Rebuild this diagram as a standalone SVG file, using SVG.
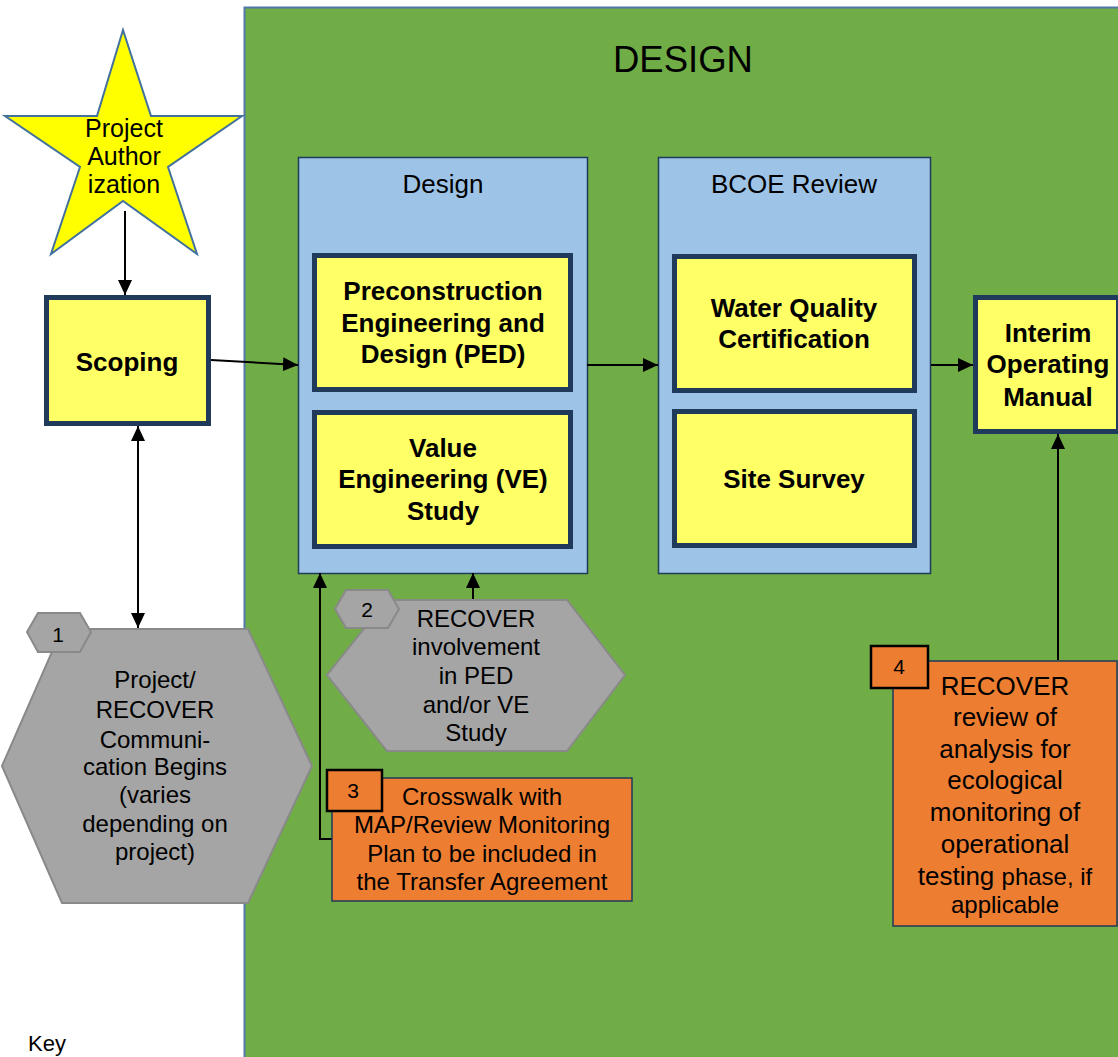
<svg xmlns="http://www.w3.org/2000/svg" width="1118" height="1057" viewBox="0 0 1118 1057">
<style>
text{font-family:"Liberation Sans",Arial,sans-serif;fill:#000;text-anchor:middle}
.yb{fill:#ffff66;stroke:#1f3a5a;stroke-width:5}
.bb{fill:#9dc3e6;stroke:#1f3a5a;stroke-width:1.5}
.hx{fill:#a5a5a5;stroke:#898989;stroke-width:2}
.or{fill:#ed7d31;stroke:#1f3a5a;stroke-width:1.5}
.badge{fill:#ed7d31;stroke:#000;stroke-width:2.5}
.b{font-weight:bold;font-size:26px}
.n{font-size:26px}
.s{font-size:24px}
.c line,.c polyline{stroke:#000;stroke-width:2;fill:none}
</style>
<defs>
<marker id="ah" viewBox="0 0 15 14" refX="15" refY="7" markerWidth="15" markerHeight="14" markerUnits="userSpaceOnUse" orient="auto-start-reverse">
<path d="M0,0 L15,7 L0,14 z" fill="#000"/>
</marker>
</defs>
<rect width="1118" height="1057" fill="#fff"/>
<g id="design-phase">
<rect x="244.5" y="7.5" width="880" height="1060" fill="#70ad47" stroke="#5277a8" stroke-width="2"/>
<text x="683" y="72" style="font-size:36.5px">DESIGN</text>
</g>
<g id="project-authorization">
<polygon points="123,30 151,116 242,116 168,167 197,254 123,201 51,254 80,167 5,116 97,116" fill="#ffff00" stroke="#41719c" stroke-width="2"/>
<text x="124" y="137" style="font-size:25px">Project</text>
<text x="124" y="165" style="font-size:25px">Author</text>
<text x="124" y="193" style="font-size:25px">ization</text>
</g>
<g id="scoping">
<rect class="yb" x="46.5" y="297.5" width="162" height="126"/>
<text class="b" x="127" y="371">Scoping</text>
</g>
<g id="design-group">
<rect class="bb" x="298.5" y="157.5" width="289" height="416"/>
<text class="n" x="443" y="193">Design</text>
</g>
<g id="ped">
<rect class="yb" x="314.5" y="255.5" width="256" height="134"/>
<text class="b" x="443" y="300">Preconstruction</text>
<text class="b" x="443" y="332">Engineering and</text>
<text class="b" x="443" y="363">Design (PED)</text>
</g>
<g id="ve-study">
<rect class="yb" x="314.5" y="412.5" width="256" height="134"/>
<text class="b" x="443" y="457">Value</text>
<text class="b" x="443" y="488">Engineering (VE)</text>
<text class="b" x="443" y="520">Study</text>
</g>
<g id="bcoe-review">
<rect class="bb" x="658.5" y="157.5" width="272" height="416"/>
<text class="n" x="794" y="193">BCOE Review</text>
</g>
<g id="water-quality">
<rect class="yb" x="674.5" y="256.5" width="240" height="134"/>
<text class="b" x="794" y="317">Water Quality</text>
<text class="b" x="794" y="348">Certification</text>
</g>
<g id="site-survey">
<rect class="yb" x="674.5" y="411.5" width="240" height="134"/>
<text class="b" x="794" y="488">Site Survey</text>
</g>
<g id="interim-manual">
<rect class="yb" x="975.5" y="297.5" width="143" height="134"/>
<text class="b" x="1048" y="342">Interim</text>
<text class="b" x="1048" y="373">Operating</text>
<text class="b" x="1048" y="406">Manual</text>
</g>
<g id="connectors" class="c">
<line x1="125" y1="211" x2="125" y2="295" marker-end="url(#ah)"/>
<line x1="211" y1="360" x2="298" y2="365" marker-end="url(#ah)"/>
<line x1="587" y1="365" x2="658" y2="365" marker-end="url(#ah)"/>
<line x1="931" y1="365" x2="973" y2="365" marker-end="url(#ah)"/>
<line x1="138" y1="426" x2="138" y2="628" marker-start="url(#ah)" marker-end="url(#ah)"/>
<line x1="473" y1="600" x2="473" y2="573" marker-end="url(#ah)"/>
<polyline points="332,839 320,839 320,573" marker-end="url(#ah)"/>
<line x1="1058" y1="660" x2="1058" y2="434" marker-end="url(#ah)"/>
</g>
<g id="step-1">
<polygon class="hx" points="62,629 248,629 312,766 248,903 62,903 2,766"/>
<polygon class="hx" points="27,632 38,613 80,613 91,632 80,652 38,652"/>
<text x="58" y="642" style="font-size:21px">1</text>
<text class="s" x="155" y="688">Project/</text>
<text class="s" x="155" y="718">RECOVER</text>
<text class="s" x="155" y="748">Communi-</text>
<text class="s" x="155" y="775">cation Begins</text>
<text class="s" x="155" y="803">(varies</text>
<text class="s" x="155" y="832">depending on</text>
<text class="s" x="155" y="860">project)</text>
</g>
<g id="step-2">
<polygon class="hx" points="387,600 567,600 625,675 567,751 387,751 327,675"/>
<polygon class="hx" points="335,609 346,590 388,590 399,609 388,628 346,628"/>
<text x="367" y="617" style="font-size:21px">2</text>
<text class="s" x="476" y="627">RECOVER</text>
<text class="s" x="476" y="655">involvement</text>
<text class="s" x="476" y="684">in PED</text>
<text class="s" x="476" y="713">and/or VE</text>
<text class="s" x="476" y="741">Study</text>
</g>
<g id="step-3">
<rect class="or" x="332" y="778" width="300" height="123"/>
<rect class="badge" x="327" y="770" width="55" height="41"/>
<text x="353" y="798" style="font-size:21px">3</text>
<text class="s" x="482" y="805">Crosswalk with</text>
<text class="s" x="482" y="833">MAP/Review Monitoring</text>
<text class="s" x="482" y="862">Plan to be included in</text>
<text class="s" x="482" y="890">the Transfer Agreement</text>
</g>
<g id="step-4">
<rect class="or" x="893" y="661" width="224" height="265"/>
<rect class="badge" x="871" y="646" width="57" height="42"/>
<text x="899" y="674" style="font-size:21px">4</text>
<text class="n" x="1005" y="695">RECOVER</text>
<text class="n" x="1005" y="726">review of</text>
<text class="n" x="1005" y="758">analysis for</text>
<text class="n" x="1005" y="789">ecological</text>
<text class="n" x="1005" y="821">monitoring of</text>
<text class="n" x="1005" y="853">operational</text>
<text class="n" x="1005" y="885">testing <tspan style="font-size:24px">phase, if</tspan></text>
<text class="s" x="1005" y="913">applicable</text>
</g>
<g id="key">
<text x="28" y="1051" style="font-size:22px;text-anchor:start">Key</text>
</g>
</svg>
